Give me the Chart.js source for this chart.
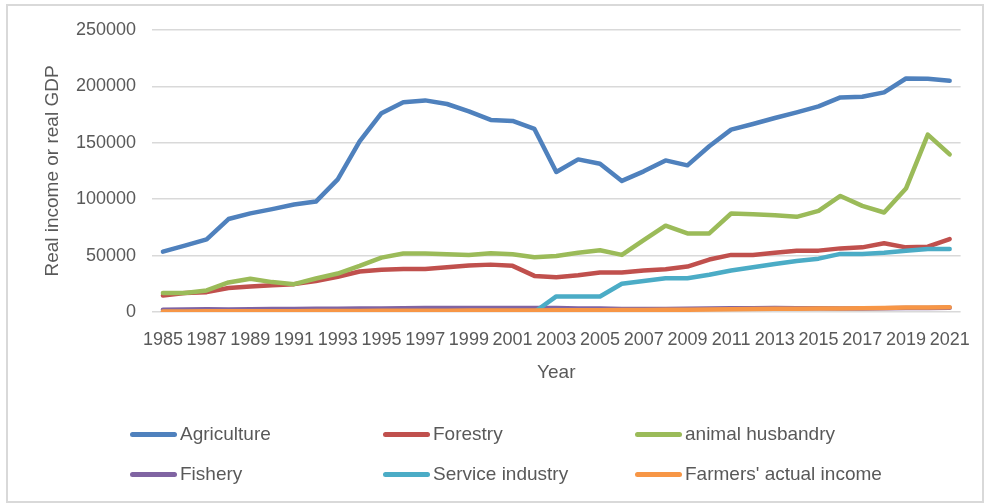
<!DOCTYPE html>
<html>
<head>
<meta charset="utf-8">
<script src="https://cdn.jsdelivr.net/npm/chart.js@4/dist/chart.umd.min.js"></script>
<style>
  html, body { margin: 0; padding: 0; background: #fff; }
  #wrap { position: relative; width: 987px; height: 503px; overflow: hidden; background: #fff; }
  #frame { position: absolute; left: 6px; top: 4px; width: 978px; height: 499px; border: 2px solid #d9d9d9; box-sizing: border-box; }
  #c { position: absolute; left: 0; top: 0; }
  .lg { position: absolute; height: 24px; display: flex; align-items: center; white-space: nowrap;
        font-family: "Liberation Sans", Arial, sans-serif; font-size: 19px; color: #595959; }
  .lg .mk { display: inline-block; width: 47px; height: 5px; border-radius: 3px; margin-right: 3px; }
</style>
</head>
<body>
<div id="wrap">
  <div id="frame"></div>
  <canvas id="c" width="987" height="503"></canvas>
</div>
<script>
const years = ["1985","1986","1987","1988","1989","1990","1991","1992","1993","1994","1995","1996","1997","1998","1999","2000","2001","2002","2003","2004","2005","2006","2007","2008","2009","2010","2011","2012","2013","2014","2015","2016","2017","2018","2019","2020","2021"];

const agriculture = [53500,58800,64400,82400,87400,91200,95300,97900,117600,151200,176200,185900,187600,184400,177900,170300,169400,162300,124100,135300,131400,116200,124700,134400,130000,147000,161700,166700,172000,177000,182300,190200,190800,194700,207000,206700,205000];
const forestry = [14700,16800,17600,21200,22600,23800,24700,27400,31200,35900,37400,38200,38200,39700,41200,42000,40900,32000,30900,32600,35000,35000,36800,37900,40300,46500,50600,50600,52600,54400,54400,56400,57300,60900,57300,57900,64700];
const animalHusbandry = [16800,16800,19100,26200,29400,26500,24700,29700,34100,40900,48200,51800,51800,51200,50600,52000,51200,48500,49700,52600,54700,50600,63800,76500,69700,69700,87300,86700,85800,84400,89700,102900,94100,88200,109400,157300,139700];
const fishery = [2000,2200,2500,2300,2500,2600,2700,2800,2900,3000,3200,3400,3500,3500,3500,3500,3500,3500,3500,3200,3000,2700,2600,2700,2800,3000,3300,3400,3500,3400,3300,3200,3200,3300,3500,3600,3700];
const serviceIndustry = [0,0,0,0,0,0,0,0,0,0,0,0,0,0,0,0,0,0,13800,13800,13800,25000,27400,30000,30000,33000,36800,39700,42600,45300,47300,51500,51500,52600,54400,55900,55900];
const farmersIncome = [500,550,600,600,650,700,750,800,850,900,1000,1100,1150,1200,1250,1300,1350,1400,1450,1500,1600,1700,1800,1900,2000,2200,2400,2600,2800,2900,3000,3200,3300,3500,4000,4100,4200];

const seriesNames = ["Agriculture","Forestry","animal husbandry","Fishery","Service industry","Farmers' actual income"];
const seriesColors = ["#4f81bd","#c0504d","#9bbb59","#8064a2","#4bacc6","#f79646"];
const seriesValues = [agriculture, forestry, animalHusbandry, fishery, serviceIndustry, farmersIncome];
const yTicks = [0, 50000, 100000, 150000, 200000, 250000];

const FONT = '"Liberation Sans", Arial, sans-serif';
const GREY = '#595959';

const datasets = seriesNames.map((name, i) => ({
  label: name,
  data: seriesValues[i],
  borderColor: seriesColors[i],
  backgroundColor: seriesColors[i],
  borderWidth: 4.5,
  borderCapStyle: 'round',
  borderJoinStyle: 'round',
  pointRadius: 0,
  pointHoverRadius: 0,
  tension: 0,
  fill: false,
  order: seriesNames.length - 1 - i
}));

const chart = new Chart(document.getElementById('c'), {
  type: 'line',
  data: { labels: years, datasets },
  options: {
    responsive: false,
    animation: false,
    layout: { padding: { left: 32, right: 23, top: 30, bottom: 111 } },
    plugins: { legend: { display: false }, tooltip: { enabled: false } },
    scales: {
      x: {
        offset: true,
        grid: { display: false, drawTicks: false },
        border: { display: false },
        ticks: {
          autoSkip: false, maxRotation: 0, minRotation: 0, padding: 17,
          color: GREY, font: { family: FONT, size: 18 },
          callback: function(v, i) { return i % 2 === 0 ? this.getLabelForValue(v) : ''; }
        },
        title: { display: true, text: 'Year', color: GREY, font: { family: FONT, size: 19 }, padding: { top: 4, bottom: 8 } },
        afterFit: s => { s.height = 80; }
      },
      y: {
        min: yTicks[0], max: yTicks[yTicks.length - 1],
        afterBuildTicks: s => { s.ticks = yTicks.map(v => ({ value: v })); },
        grid: { color: '#d9d9d9', lineWidth: 1.5, drawTicks: false },
        border: { display: false },
        ticks: { padding: 16, color: GREY, font: { family: FONT, size: 18 }, callback: v => String(v) },
        title: { display: true, text: 'Real income or real GDP', color: GREY, font: { family: FONT, size: 19 }, padding: { top: 9, bottom: 0 } },
        afterFit: s => { s.width = 120; }
      }
    }
  }
});

// HTML legend built from the chart's datasets (3 columns x 2 rows)
const colX = [130, 383, 635];
const rowY = [434, 474];
const wrap = document.getElementById('wrap');
chart.data.datasets.forEach((ds, i) => {
  const item = document.createElement('div');
  item.className = 'lg';
  item.style.left = colX[i % 3] + 'px';
  item.style.top = (rowY[Math.floor(i / 3)] - 12) + 'px';
  const mk = document.createElement('span');
  mk.className = 'mk';
  mk.style.background = ds.borderColor;
  const tx = document.createElement('span');
  tx.textContent = ds.label;
  item.appendChild(mk);
  item.appendChild(tx);
  wrap.appendChild(item);
});
</script>
</body>
</html>
